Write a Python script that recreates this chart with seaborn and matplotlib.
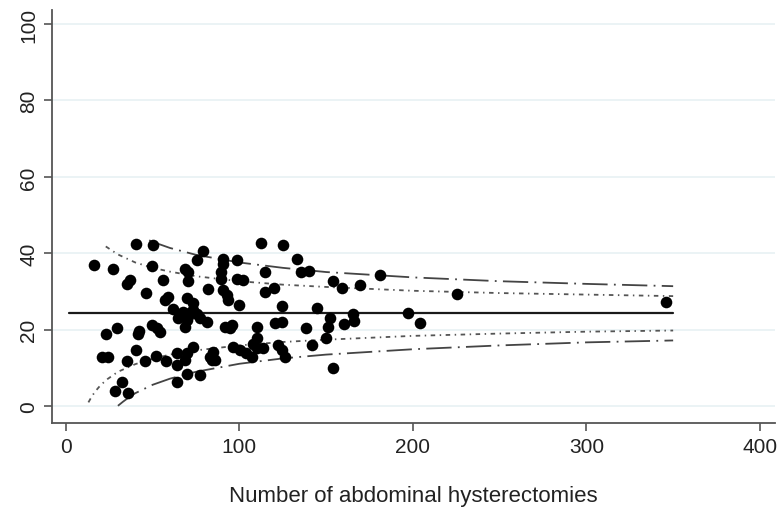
import matplotlib
matplotlib.use("Agg")
import matplotlib.pyplot as plt
from matplotlib import font_manager
import seaborn as sns
import pandas as pd

# Hospital volume (number of abdominal hysterectomies) and observed rate (%)
volume = [16.1, 26.9, 40.3, 50.3, 49.4, 35.0, 36.9, 46.1, 56.1, 57.0, 59.0,
          23.4, 29.2, 41.7, 42.2, 49.4, 52.3, 54.2, 20.6, 24.4, 40.3, 35.5,
          45.5, 51.7, 58.0, 32.1, 28.2, 35.9, 79.1, 75.3, 68.6, 70.5, 70.5,
          82.0, 69.6, 73.4, 61.8, 67.6, 70.5, 73.4, 75.3, 77.2, 69.6, 81.1,
          64.7, 68.6, 73.4, 63.8, 69.6, 63.8, 68.6, 69.6, 77.2, 63.8, 83.0,
          84.0, 90.3, 90.3, 98.7, 89.7, 89.7, 98.4, 102.2, 90.7, 92.6, 93.5,
          99.9, 72.4, 91.6, 95.5, 94.5, 109.9, 110.0, 84.9, 85.9, 96.4, 100.3,
          104.1, 107.0, 110.0, 112.2, 124.9, 133.3, 114.7, 135.3, 140.2, 154.1,
          158.9, 169.5, 114.7, 119.9, 124.3, 144.5, 120.5, 124.3, 138.2, 152.2,
          151.3, 160.2, 165.6, 166.0, 108.0, 113.7, 122.4, 124.3, 126.2, 141.6,
          150.2, 154.1, 181.0, 225.5, 345.8, 197.3, 204.0]
rate = [36.9, 36.0, 42.4, 42.1, 36.6, 32.1, 33.0, 29.7, 33.0, 27.8, 28.6,
        18.8, 20.4, 18.8, 19.7, 21.2, 20.4, 19.5, 13.0, 13.0, 14.7, 11.7,
        11.7, 13.1, 11.8, 6.3, 4.0, 3.4, 40.6, 38.2, 36.0, 35.2, 32.7,
        30.6, 28.2, 26.9, 25.3, 24.7, 23.7, 25.1, 24.0, 23.0, 22.5, 22.1,
        23.0, 20.8, 15.6, 13.8, 13.8, 10.8, 12.1, 8.4, 8.2, 6.3, 13.0,
        12.1, 38.6, 37.3, 38.2, 35.2, 33.4, 33.4, 33.0, 30.4, 29.1, 27.8,
        26.6, 24.7, 20.8, 21.2, 20.4, 20.8, 17.8, 14.3, 12.1, 15.6, 14.7,
        13.8, 13.0, 15.1, 42.8, 42.3, 38.5, 35.0, 35.0, 35.3, 32.7,
        30.8, 31.7, 29.9, 31.0, 26.3, 25.8, 21.7, 22.1, 20.5, 23.2,
        20.8, 21.4, 24.0, 22.3, 16.4, 15.1, 16.0, 14.7, 13.0, 16.0,
        17.8, 9.9, 34.3, 29.4, 27.2, 24.3, 21.7]

# Overall mean rate
mean_n = [2, 350]
mean_rate = [24.3, 24.3]

# 95% control limits
inner_lo_n = [13, 15, 17, 20, 24, 30, 40, 50, 60, 75, 100, 125, 150, 200, 250, 300, 350]
inner_lo = [1.0, 2.6, 3.9, 5.5, 7.1, 9.0, 11.0, 12.4, 13.5, 14.6, 15.9, 16.8, 17.4, 18.4, 19.0, 19.5, 19.8]
inner_hi_n = [23, 30, 40, 50, 60, 75, 100, 125, 150, 200, 250, 300, 350]
inner_hi = [41.8, 39.7, 37.6, 36.2, 35.2, 34.0, 32.7, 31.8, 31.2, 30.2, 29.6, 29.2, 28.8]

# 99.8% control limits
outer_lo_n = [30, 33, 36, 40, 45, 50, 60, 75, 100, 125, 150, 200, 250, 300, 350]
outer_lo = [0.1, 1.2, 2.2, 3.4, 4.5, 5.6, 7.2, 9.0, 11.1, 12.5, 13.5, 14.9, 15.9, 16.7, 17.2]
outer_hi_n = [48, 50, 60, 75, 100, 125, 150, 200, 250, 300, 350]
outer_hi = [43.4, 43.0, 41.4, 39.6, 37.6, 36.2, 35.1, 33.7, 32.7, 32.0, 31.4]

x_ticks = [0, 100, 200, 300, 400]
y_ticks = [0, 20, 40, 60, 80, 100]
x_label = "Number of abdominal hysterectomies"

sns.set_style("white")
names = {f.name for f in font_manager.fontManager.ttflist}
family = "Liberation Sans Narrow" if "Liberation Sans Narrow" in names else "Liberation Sans"
plt.rcParams["font.family"] = [family, "DejaVu Sans"]

fig = plt.figure(figsize=(7.84, 5.10), dpi=100)
ax = fig.add_axes([0.0663, 0.1686, 0.922, 0.8094])

for yv in y_ticks:
    ax.axhline(yv, color="#e8f1f3", lw=1.2, zorder=0)

axis_col = "#555555"

def draw_line(xs, ys, dashes, color, lw):
    df = pd.DataFrame({"n": xs, "v": ys})
    sns.lineplot(data=df, x="n", y="v", ax=ax, sort=False, estimator=None,
                 color=color, lw=lw, zorder=2)
    ln = ax.lines[-1]
    if dashes:
        ln.set_dashes(dashes)

draw_line(mean_n, mean_rate, None, "#1a1a1a", 1.6)
draw_line(inner_lo_n, inner_lo, (2.5, 2.5, 0.8, 2.5), "#555555", 1.3)
draw_line(inner_hi_n, inner_hi, (2.5, 2.5, 0.8, 2.5), "#555555", 1.3)
draw_line(outer_lo_n, outer_lo, (14, 3.5, 1, 3.5), "#444444", 1.3)
draw_line(outer_hi_n, outer_hi, (14, 3.5, 1, 3.5), "#444444", 1.3)

pts = pd.DataFrame({"volume": volume, "rate": rate})
sns.scatterplot(data=pts, x="volume", y="rate", ax=ax, color="black",
                s=70, edgecolor="black", linewidth=0, zorder=3)

ax.set_xlim(-8, 408.6)
ax.set_ylim(-4.4, 103.6)
ax.set_xticks(x_ticks)
ax.set_yticks(y_ticks)
ax.set_xticklabels([str(v) for v in x_ticks], fontsize=15, color="#222222")
ax.set_yticklabels([str(v) for v in y_ticks], fontsize=15, color="#222222",
                   rotation=90, va="center")
ax.set_xlabel(x_label, fontsize=16, color="#222222", labelpad=21)
ax.set_ylabel("")

for side in ["top", "right"]:
    ax.spines[side].set_visible(False)
for side in ["left", "bottom"]:
    ax.spines[side].set_color(axis_col)
    ax.spines[side].set_linewidth(1.3)
ax.tick_params(axis="both", direction="out", length=6, width=1.2,
               color=axis_col, pad=4)
ax.tick_params(axis="x", bottom=True)
ax.tick_params(axis="y", left=True)

fig.savefig("out.png", dpi=100)
